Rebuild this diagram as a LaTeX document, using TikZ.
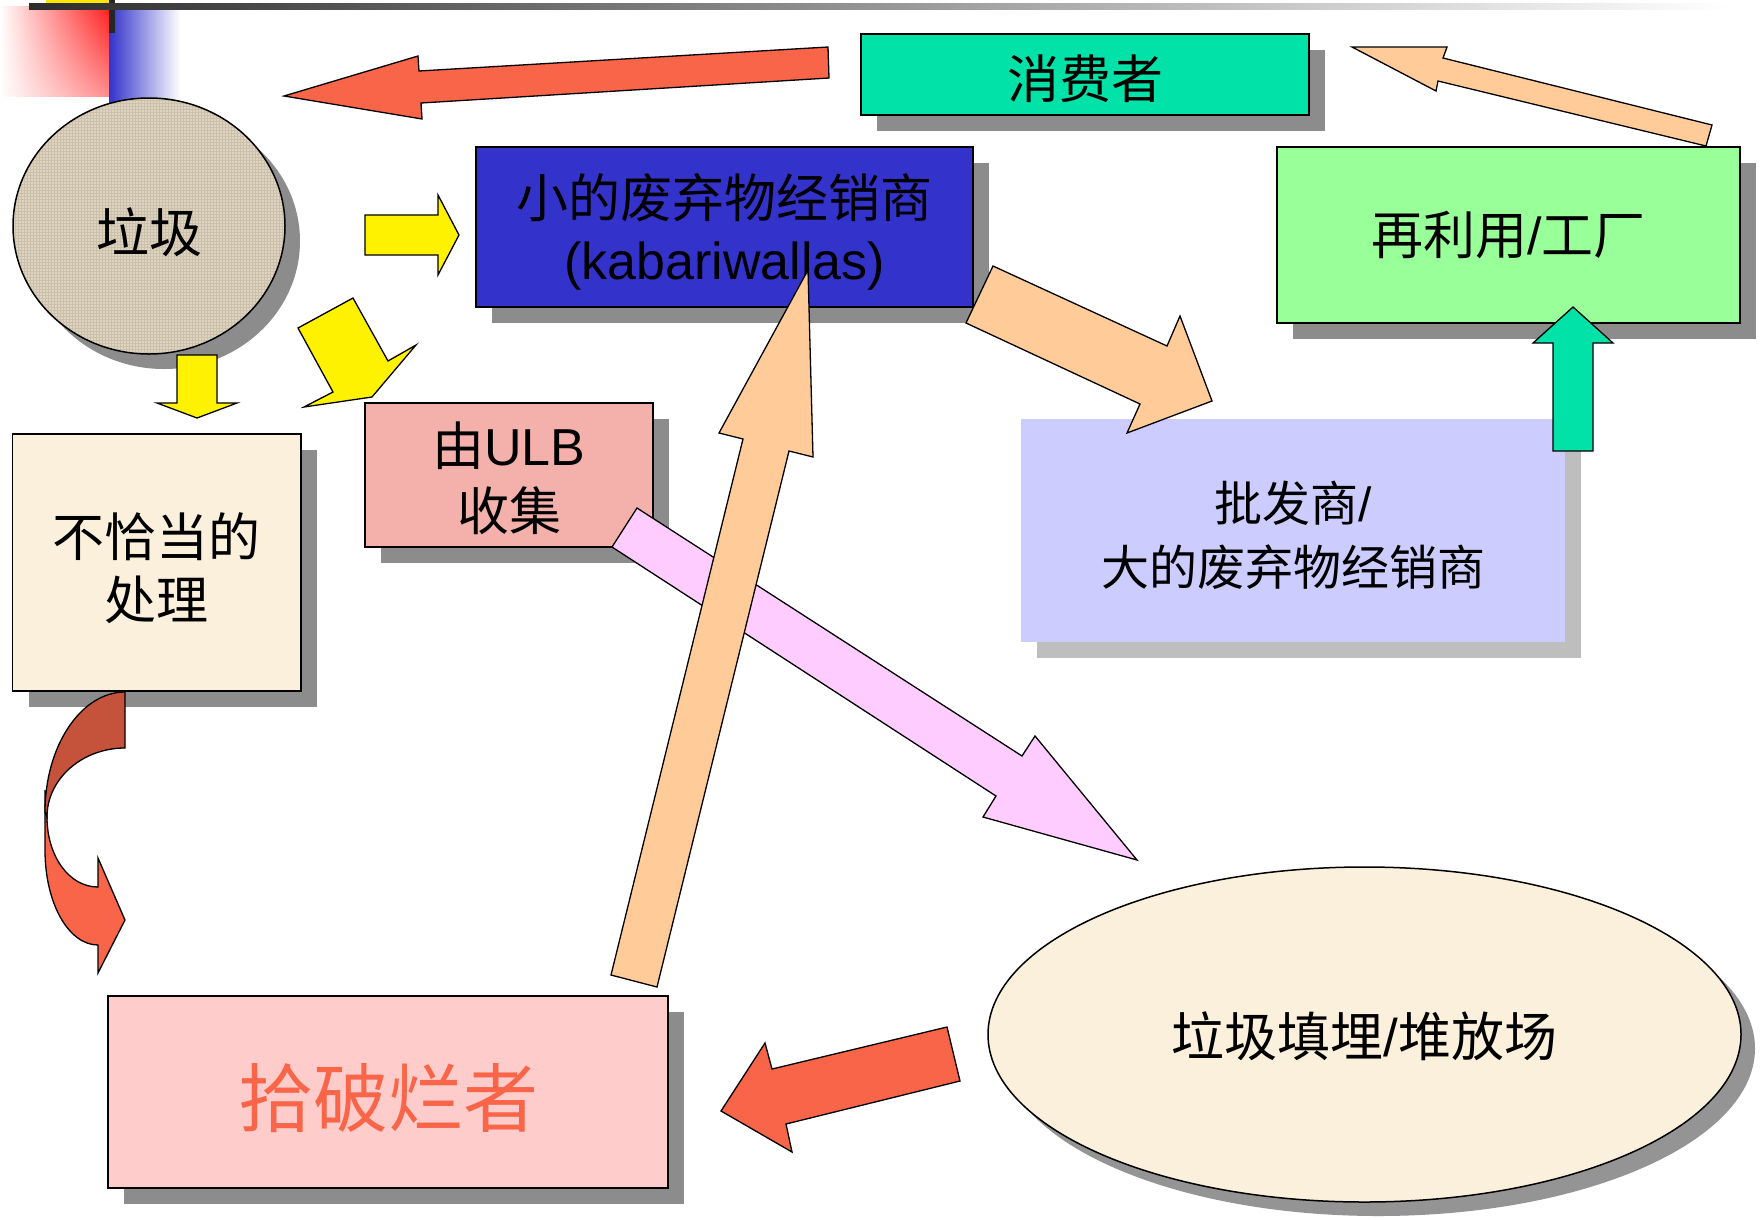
\documentclass[tikz,border=0pt]{standalone}
\usepackage{fontspec}
\setmainfont{Liberation Sans}
\newfontfamily\cjk{Noto Sans CJK SC}
\usetikzlibrary{shapes.geometric,shadows,fadings,patterns}
\definecolor{shadowgray}{RGB}{140,140,140}
\definecolor{lightshadow}{RGB}{190,190,190}
\definecolor{teal}{RGB}{0,226,168}
\definecolor{kblue}{RGB}{51,51,204}
\definecolor{reusegreen}{RGB}{153,255,153}
\definecolor{parch}{RGB}{251,240,220}
\definecolor{ulbpink}{RGB}{244,176,170}
\definecolor{lilac}{RGB}{204,204,255}
\definecolor{rose}{RGB}{255,204,204}
\definecolor{burlap}{RGB}{222,212,193}
\definecolor{burlapdark}{RGB}{203,192,170}
\definecolor{redarrow}{RGB}{248,101,72}
\definecolor{darkred}{RGB}{197,83,59}
\definecolor{peach}{RGB}{255,204,153}
\definecolor{pinkarrow}{RGB}{255,204,255}
\definecolor{barstart}{RGB}{45,45,45}
\definecolor{decored}{RGB}{255,30,30}
\tikzfading[name=softsouth, top color=transparent!0, bottom color=transparent!50]
\begin{document}
\begin{tikzpicture}[x=1pt,y=-1pt,
  box/.style={draw=black, line width=1.8pt, inner sep=0pt,
    drop shadow={shadow xshift=16pt, shadow yshift=-16pt, opacity=1, fill=shadowgray}},
  oval/.style={ellipse, draw=black, line width=1.5pt, inner sep=0pt},
  txt/.style={inner sep=0pt, align=center, font=\fontsize{52}{62}\selectfont},
  blockarrow/.style={draw=black, line width=1.3pt, line join=miter}]
\useasboundingbox (0,0) rectangle (1764,1219);
\fill[white] (0,0) rectangle (1764,1219);

% top-left decoration
\shade[left color=kblue, right color=white] (109,7) rectangle (180,112);
\shade[left color=white, right color=decored, path fading=softsouth] (0,7) rectangle (109,96);
\fill[yellow!90!orange] (46,0) rectangle (109,3.4);
\fill[black!85] (109,0) rectangle (115,33);
\shade[left color=barstart, right color=white] (29,3.4) rectangle (1730,9.4);

% node shapes
\node[oval, minimum width=272pt, minimum height=256pt,
  drop shadow={shadow xshift=15pt, shadow yshift=-15pt, opacity=1, fill=shadowgray},
  preaction={fill=burlap}, pattern=grid, pattern color=burlapdark] (garbage) at (149,226) {};
\node[box, fill=teal, minimum width=448pt, minimum height=81pt] (consumer) at (1085,74.5) {};
\node[box, fill=kblue, minimum width=497pt, minimum height=160pt] (kabari) at (724.5,227) {};
\node[box, fill=reusegreen, minimum width=463pt, minimum height=176pt] (reuse) at (1508.5,235) {};
\node[box, fill=parch, minimum width=288.5pt, minimum height=257pt] (improper) at (156.75,562.5) {};
\node[box, fill=ulbpink, minimum width=288pt, minimum height=144pt] (ulb) at (509,475) {};
\node[box, draw=none, fill=lilac, minimum width=544pt, minimum height=223pt,
  drop shadow={shadow xshift=16pt, shadow yshift=-16pt, opacity=1, fill=lightshadow}] (wholesale) at (1293,530.5) {};
\node[box, fill=rose, minimum width=560pt, minimum height=192pt] (rag) at (388,1092) {};
\node[oval, fill=parch, minimum width=753pt, minimum height=335pt,
  drop shadow={shadow xshift=14pt, shadow yshift=-14pt, opacity=1, fill=black!42}] (landfill) at (1364.5,1034.5) {};

% texts
\node[txt, font=\fontsize{53}{62}\selectfont] (garbage-t) at ([yshift=-6pt]garbage.center) {{\cjk 垃圾}};
\node[txt] (consumer-t) at ([yshift=-4pt]consumer.center) {{\cjk 消费者}};
\node[txt] (kabari-t) at ([yshift=-5pt]kabari.center) {{\cjk 小的废弃物经销商}\\(kabariwallas)};
\node[txt] (reuse-t) at (reuse.center) {{\cjk 再利用}/{\cjk 工厂}};
\node[txt, font=\fontsize{52}{63}\selectfont] (improper-t) at ([yshift=-6pt]improper.center) {{\cjk 不恰当的}\\{\cjk 处理}};
\node[txt, font=\fontsize{52}{65}\selectfont] (ulb-t) at ([yshift=-3pt]ulb.center) {{\cjk 由}ULB\\{\cjk 收集}};
\node[txt, font=\fontsize{48}{64}\selectfont] (wholesale-t) at ([yshift=-5pt]wholesale.center) {{\cjk 批发商}/\\{\cjk 大的废弃物经销商}};
\node[txt, text=redarrow, font=\fontsize{75}{80}\selectfont] (rag-t) at ([yshift=-6pt]rag.center) {{\cjk 拾破烂者}};
\node[txt, font=\fontsize{53}{62}\selectfont] (landfill-t) at ([yshift=-2pt]landfill.center) {{\cjk 垃圾填埋}/{\cjk 堆放场}};

% block arrows
% consumer -> garbage
\draw[blockarrow, fill=redarrow] (828,47) -- (419,71) -- (418,56) -- (284,96) -- (422,119) -- (421,103) -- (829,78) -- cycle;
% garbage -> kabari
\draw[blockarrow, fill=yellow] (365,215) -- (438,215) -- (438,195) -- (459,235) -- (438,275) -- (438,255) -- (365,255) -- cycle;
% garbage -> ulb
\draw[blockarrow, fill=yellow] (298,328) -- (353,298) -- (388,361) -- (416,345) -- (372,397) -- (304,407) -- (333,392) -- cycle;
% garbage -> improper
\draw[blockarrow, fill=yellow] (177,355) -- (217,355) -- (217,403) -- (237,403) -- (197,418) -- (157,403) -- (177,403) -- cycle;
% kabari -> wholesale
\draw[blockarrow, fill=peach] (993,266) -- (1167,346) -- (1180,316) -- (1212,401) -- (1127,433) -- (1140,404) -- (966,323) -- cycle;
% ulb -> landfill
\draw[blockarrow, fill=pinkarrow] (637,508) -- (1022,756) -- (1035,736) -- (1137,860) -- (983,817) -- (996,796) -- (612,547) -- cycle;
% rag -> kabari
\draw[blockarrow, fill=peach] (611,975) -- (743,439) -- (719,433) -- (808,270) -- (813,457) -- (789,451) -- (657,987) -- cycle;
% wholesale -> reuse
\draw[blockarrow, fill=teal] (1553,451) -- (1553,343) -- (1533,343) -- (1573,307) -- (1613,343) -- (1593,343) -- (1593,451) -- cycle;
% reuse -> consumer
\draw[blockarrow, fill=peach] (1712,125) -- (1443,58) -- (1447,47) -- (1352,47) -- (1436,91) -- (1438,81) -- (1706,146) -- cycle;
% landfill -> rag
\draw[blockarrow, fill=redarrow] (947,1027) -- (772,1069) -- (765,1043) -- (721,1111) -- (792,1152) -- (786,1124) -- (960,1081) -- cycle;
% improper -> rag (curved)
\draw[blockarrow, fill=redarrow] (45,790) -- (45,850) .. controls (45,904) and (69,945) .. (98,945) -- (98,973) -- (125,920) -- (98,858) -- (98,887) .. controls (69,887) and (47,856) .. (47,817) -- cycle;
\draw[blockarrow, fill=darkred] (125,692) -- (125,748) .. controls (82,748) and (47,779) .. (47,817) -- (45,812) .. controls (45,746) and (81,692) .. (125,692) -- cycle;
\end{tikzpicture}
\end{document}
